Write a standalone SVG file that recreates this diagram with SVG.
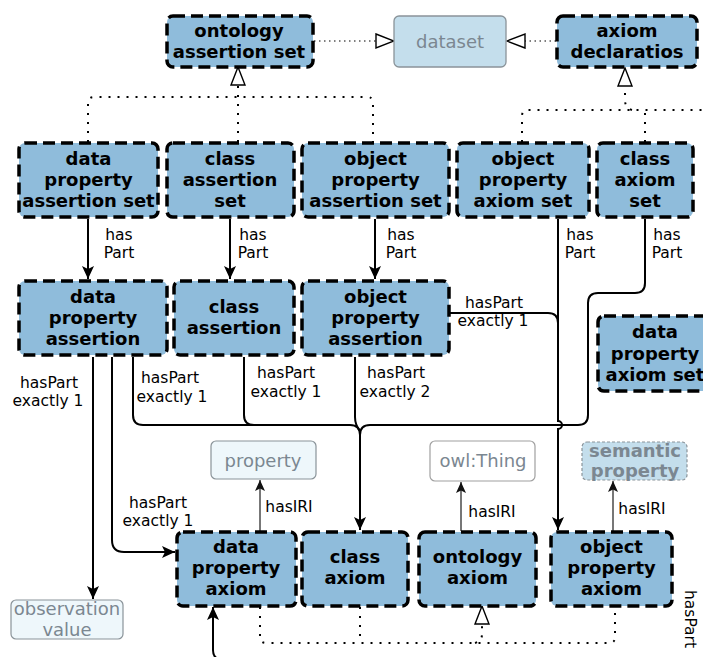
<svg xmlns="http://www.w3.org/2000/svg" width="703" height="657" viewBox="0 0 703 657">
<defs>
<marker id="ah" markerUnits="userSpaceOnUse" markerWidth="14" markerHeight="12" refX="13" refY="6" orient="auto">
<path d="M0,0 L13,6 L0,12 L3,6 z" fill="#000"/>
</marker>
<marker id="ahs" markerUnits="userSpaceOnUse" markerWidth="12" markerHeight="10" refX="11" refY="5" orient="auto">
<path d="M0,0 L11,5 L0,10 L2.5,5 z" fill="#111"/>
</marker>
<marker id="tri" markerUnits="userSpaceOnUse" markerWidth="20" markerHeight="18" refX="19" refY="8" orient="auto">
<path d="M1,1 L19,8 L1,15 z" fill="#fff" stroke="#000" stroke-width="1.4"/>
</marker>
</defs>
<style>
.n rect{fill:#8fbcdb;stroke:#000;stroke-width:3.5;stroke-dasharray:12 6}
.n text{font-family:"DejaVu Sans",sans-serif;font-weight:bold;font-size:18px;fill:#000;text-anchor:middle}
.g text{font-family:"DejaVu Sans",sans-serif;font-size:18px;fill:#7b8791;text-anchor:middle}
.lb{font-family:"DejaVu Sans",sans-serif;font-size:15.5px;fill:#000;text-anchor:middle}
.e{fill:none;stroke:#000;stroke-width:2}
.iri{fill:none;stroke:#555;stroke-width:1.6}
.dot{fill:none;stroke:#000;stroke-width:2;stroke-dasharray:2 7}
.dot2{fill:none;stroke:#000;stroke-width:1.2;stroke-dasharray:1.5 3.5}
</style>

<g id="connectors">
<!-- dataset links -->
<path class="dot2" d="M314,41 H394" marker-end="url(#tri)"/>
<path class="dot2" d="M556,41 H507" marker-end="url(#tri)"/>
<!-- inheritance top-left -->
<path class="dot" d="M88,142 V103 Q88,97 94,97 H367 Q373,97 373,103 V142"/>
<path class="dot" d="M238,142 V67" marker-end="url(#tri)"/>
<!-- inheritance top-right -->
<path class="dot" d="M522,142 V116 Q522,110 528,110 H703"/>
<path class="dot" d="M645,142 V110"/>
<path class="dot" d="M632,110 Q625,108 625,100 V68" marker-end="url(#tri)"/>
<!-- inheritance bottom -->
<path class="dot" d="M260,607 V637 Q260,643 266,643 H609 Q615,643 615,637 V607"/>
<path class="dot" d="M360,607 V643"/>
<path class="dot" d="M475,643 Q482,641 482,634 V606" marker-end="url(#tri)"/>
<!-- hasPart row2 -> row3 -->
<path class="e" d="M88,219 V279" marker-end="url(#ah)"/>
<path class="e" d="M230,219 V279" marker-end="url(#ah)"/>
<path class="e" d="M375,219 V279" marker-end="url(#ah)"/>
<!-- object property axiom set -> object property axiom -->
<path class="e" d="M558,219 V421 A4,4 0 0 1 558,429 V530" marker-end="url(#ah)"/>
<path class="e" d="M450,313 H548 Q558,313 558,323"/>
<!-- class axiom set -> class axiom -->
<path class="e" d="M645,219 V283 Q645,293 635,293 H598 Q588,293 588,303 V415 Q588,425 578,425 H370 Q360,425 360,435 V530" marker-end="url(#ah)"/>
<path class="e" d="M133,357 V415 Q133,425 143,425 H350 Q360,425 360,435"/>
<path class="e" d="M244,357 V415 Q244,425 254,425"/>
<path class="e" d="M355,357 V417 Q355,425 360,431"/>
<!-- data property assertion -> observation value / data property axiom -->
<path class="e" d="M93,357 V599" marker-end="url(#ah)"/>
<path class="e" d="M112,357 V540 Q112,552 124,552 H175" marker-end="url(#ah)"/>
<!-- bottom incoming -->
<path class="e" d="M224,660 Q213,660 213,650 V607" marker-end="url(#ah)"/>
<!-- hasIRI -->
<path class="iri" d="M260,531 V480" marker-end="url(#ahs)"/>
<path class="iri" d="M461,531 V482" marker-end="url(#ahs)"/>
<path class="iri" d="M613,531 V481" marker-end="url(#ahs)"/>
<!-- labels -->
<text class="lb" x="119" y="240">has</text><text class="lb" x="119" y="258">Part</text>
<text class="lb" x="253" y="240">has</text><text class="lb" x="253" y="258">Part</text>
<text class="lb" x="401" y="240">has</text><text class="lb" x="401" y="258">Part</text>
<text class="lb" x="580" y="240">has</text><text class="lb" x="580" y="258">Part</text>
<text class="lb" x="667" y="240">has</text><text class="lb" x="667" y="258">Part</text>
<text class="lb" x="494" y="308">hasPart</text><text class="lb" x="493" y="326">exactly 1</text>
<text class="lb" x="49" y="388">hasPart</text><text class="lb" x="48" y="406">exactly 1</text>
<text class="lb" x="170" y="383">hasPart</text><text class="lb" x="172" y="402">exactly 1</text>
<text class="lb" x="286" y="378">hasPart</text><text class="lb" x="286" y="397">exactly 1</text>
<text class="lb" x="396" y="378">hasPart</text><text class="lb" x="395" y="397">exactly 2</text>
<text class="lb" x="158" y="508">hasPart</text><text class="lb" x="158" y="526">exactly 1</text>
<text class="lb" x="289" y="512">hasIRI</text>
<text class="lb" x="492" y="517">hasIRI</text>
<text class="lb" x="642" y="514">hasIRI</text>
<text class="lb" x="685" y="619" transform="rotate(90 685 619)">hasPart</text>
</g>

<g id="ontology-assertion-set" class="n"><rect x="167" y="16" width="146" height="51" rx="6"/><text x="239" y="37">ontology</text><text x="239" y="58">assertion set</text></g>
<g id="dataset" class="g"><rect x="394" y="16" width="112" height="51" rx="5" fill="#c4deec" stroke="#8a9399" stroke-width="1.3"/><text x="450" y="48">dataset</text></g>
<g id="axiom-declaratios" class="n"><rect x="557" y="16" width="140" height="51" rx="6"/><text x="627" y="37">axiom</text><text x="627" y="58">declaratios</text></g>

<g id="data-property-assertion-set" class="n"><rect x="19" y="143" width="139" height="74" rx="6"/><text x="88.5" y="165">data</text><text x="88.5" y="186">property</text><text x="88.5" y="207">assertion set</text></g>
<g id="class-assertion-set" class="n"><rect x="167" y="143" width="127" height="74" rx="6"/><text x="230" y="165">class</text><text x="230" y="186">assertion</text><text x="230" y="207">set</text></g>
<g id="object-property-assertion-set" class="n"><rect x="302" y="143" width="147" height="74" rx="6"/><text x="375.5" y="165">object</text><text x="375.5" y="186">property</text><text x="375.5" y="207">assertion set</text></g>
<g id="object-property-axiom-set" class="n"><rect x="457" y="143" width="132" height="74" rx="6"/><text x="523" y="165">object</text><text x="523" y="186">property</text><text x="523" y="207">axiom set</text></g>
<g id="class-axiom-set" class="n"><rect x="597" y="143" width="96" height="74" rx="6"/><text x="645" y="165">class</text><text x="645" y="186">axiom</text><text x="645" y="207">set</text></g>

<g id="data-property-assertion" class="n"><rect x="19" y="281" width="148" height="74" rx="6"/><text x="93" y="303">data</text><text x="93" y="324">property</text><text x="93" y="345">assertion</text></g>
<g id="class-assertion" class="n"><rect x="174" y="281" width="120" height="74" rx="6"/><text x="234" y="313">class</text><text x="234" y="334">assertion</text></g>
<g id="object-property-assertion" class="n"><rect x="302" y="281" width="147" height="74" rx="6"/><text x="375.5" y="303">object</text><text x="375.5" y="324">property</text><text x="375.5" y="345">assertion</text></g>
<g id="data-property-axiom-set" class="n"><rect x="598" y="316" width="118" height="75" rx="6"/><text x="655" y="338">data</text><text x="655" y="360">property</text><text x="655" y="381">axiom set</text></g>

<g id="property" class="g"><rect x="211" y="441" width="105" height="38" rx="5" fill="#eef7fb" stroke="#8a9399" stroke-width="1.2"/><text x="263" y="467">property</text></g>
<g id="owl-thing" class="g"><rect x="430" y="441" width="105" height="40" rx="5" fill="#fff" stroke="#a0a0a0" stroke-width="1.2"/><text x="483" y="467">owl:Thing</text></g>
<g id="semantic-property" class="g"><rect x="582" y="442" width="105" height="38" rx="5" fill="#c4deec" stroke="#8a9399" stroke-width="1.2" stroke-dasharray="3 2"/><text x="635" y="457" font-weight="bold">semantic</text><text x="635" y="477" font-weight="bold">property</text></g>
<g id="observation-value" class="g"><rect x="11" y="600" width="112" height="39" rx="5" fill="#eef7fb" stroke="#8a9399" stroke-width="1.2"/><text x="67" y="615">observation</text><text x="67" y="636">value</text></g>

<g id="data-property-axiom" class="n"><rect x="177" y="532" width="119" height="74" rx="6"/><text x="236" y="553">data</text><text x="236" y="574">property</text><text x="236" y="595">axiom</text></g>
<g id="class-axiom" class="n"><rect x="302" y="532" width="106" height="74" rx="6"/><text x="355" y="563">class</text><text x="355" y="584">axiom</text></g>
<g id="ontology-axiom" class="n"><rect x="419" y="532" width="117" height="74" rx="6"/><text x="477.5" y="563">ontology</text><text x="477.5" y="584">axiom</text></g>
<g id="object-property-axiom" class="n"><rect x="551" y="532" width="121" height="74" rx="6"/><text x="611.5" y="553">object</text><text x="611.5" y="574">property</text><text x="611.5" y="595">axiom</text></g>
</svg>
